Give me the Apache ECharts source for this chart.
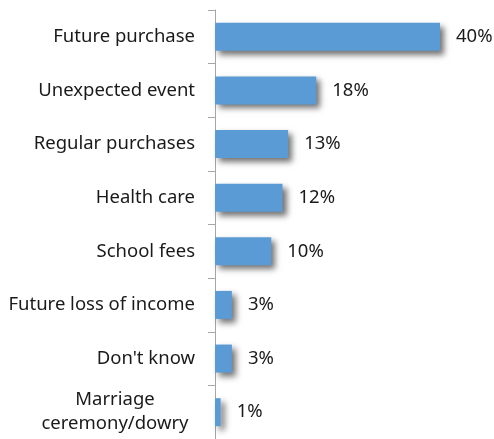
<!DOCTYPE html>
<html>
<head>
<meta charset="utf-8">
<script src="https://cdn.jsdelivr.net/npm/echarts@6/dist/echarts.min.js"></script>
<style>
  html, body { margin: 0; padding: 0; background: #ffffff; }
  #chart { width: 494px; height: 439px; }
</style>
</head>
<body>
<div id="chart"></div>
<script>
// Reasons for saving, share of respondents (%)
const categories = [
  'Future purchase',
  'Unexpected event',
  'Regular purchases',
  'Health care',
  'School fees',
  'Future loss of income',
  "Don't know",
  'Marriage\nceremony/dowry'
];
const shares = [40, 18, 13, 12, 10, 3, 3, 1];

const FONT = 'Noto Sans';
const FONT_SIZE = 18.5;
const TEXT_COLOR = '#1a1a1a';

const chart = echarts.init(document.getElementById('chart'), null, { renderer: 'canvas' });

chart.setOption({
  animation: false,
  backgroundColor: '#ffffff',
  grid: { left: 215, right: 9, top: 10, bottom: 0, containLabel: false },
  xAxis: {
    type: 'value',
    min: 0,
    max: 48,
    show: false
  },
  yAxis: {
    type: 'category',
    inverse: true,
    data: categories,
    axisLine: { show: true, lineStyle: { color: '#a6a6a6', width: 1 } },
    axisTick: { show: true, length: 7, lineStyle: { color: '#a6a6a6' } },
    axisLabel: {
      margin: 20,
      color: TEXT_COLOR,
      fontFamily: FONT,
      fontSize: FONT_SIZE,
      formatter: function (v) {
        if (v.indexOf('\n') >= 0) {
          return v.split('\n').map(function (s) { return '{c|' + s + '}'; }).join('\n');
        }
        return v;
      },
      rich: {
        c: {
          width: 160,
          align: 'center',
          fontFamily: FONT,
          fontSize: FONT_SIZE,
          color: TEXT_COLOR,
          lineHeight: 24
        }
      }
    },
    splitLine: { show: false }
  },
  series: [{
    type: 'bar',
    data: shares,
    barWidth: 28,
    itemStyle: {
      color: '#5b9bd5',
      shadowColor: 'rgba(0,0,0,0.55)',
      shadowBlur: 6,
      shadowOffsetX: 4,
      shadowOffsetY: 4
    },
    label: {
      show: true,
      position: 'right',
      distance: 16,
      formatter: '{c}%',
      color: TEXT_COLOR,
      fontFamily: FONT,
      fontSize: FONT_SIZE
    }
  }]
});
</script>
</body>
</html>
